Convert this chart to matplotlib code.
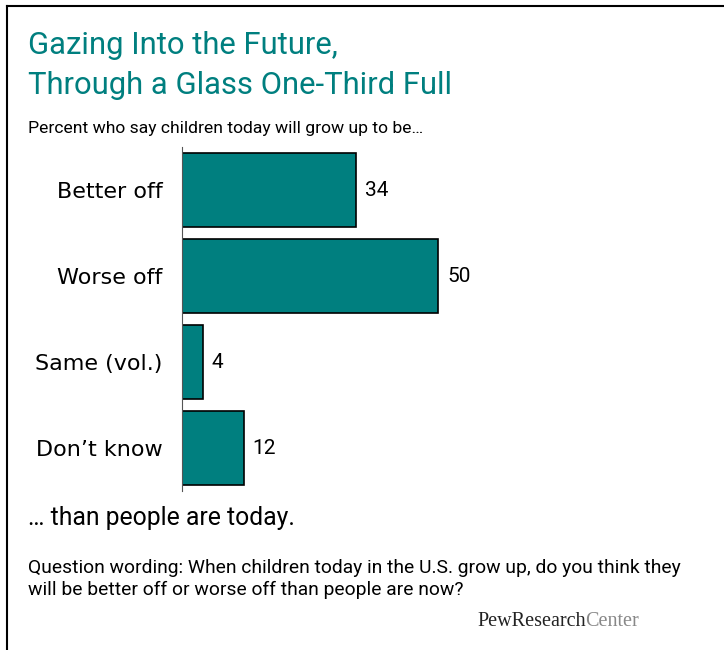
import numpy as np
import matplotlib.pyplot as plt

categories = ['Better off', 'Worse off', 'Same (vol.)', 'Don\u2019t know']
values = [34, 50, 4, 12]

teal = '#007f7f'

fig = plt.figure(figsize=(7.24, 6.5), dpi=100)
ax = fig.add_axes([182 / 724, 1 - 491 / 650, 307.5 / 724, 344 / 650])

y = np.arange(len(categories))
ax.barh(y, values, height=0.85, color=teal, edgecolor='black', linewidth=1.2)
for yi, v in zip(y, values):
    ax.text(v + 1.7, yi, str(v), va='center', ha='left', fontsize=15, family='Roboto')

ax.set_xlim(0, 60)
ax.set_ylim(3.5, -0.5)
ax.set_yticks(y)
ax.set_yticklabels(categories, fontsize=16, family='DejaVu Sans')
ax.tick_params(axis='y', length=0, pad=14)
ax.set_xticks([])
for s in ['top', 'right', 'bottom']:
    ax.spines[s].set_visible(False)
ax.spines['left'].set_color('#555555')

# frame lines (top and left)
fig.add_artist(plt.Line2D([7 / 724, 1], [1 - 6 / 650] * 2, color='black', lw=1.5))
fig.add_artist(plt.Line2D([7 / 724] * 2, [0, 1 - 6 / 650], color='black', lw=1.5))

fig.text(28 / 724, 1 - 45 / 650, 'Gazing Into the Future,', color=teal,
         fontsize=22.3, family='Roboto', va='center')
fig.text(28 / 724, 1 - 86 / 650, 'Through a Glass One-Third Full', color=teal,
         fontsize=22.3, family='Roboto', va='center')
fig.text(28 / 724, 1 - 128 / 650, 'Percent who say children today will grow up to be\u2026',
         fontsize=12.6, family='Roboto', va='center')
fig.text(28 / 724, 1 - 518 / 650, '\u2026 than people are today.', fontsize=17.8,
         family='Roboto', va='center')
fig.text(28 / 724, 1 - 568 / 650,
         'Question wording: When children today in the U.S. grow up, do you think they',
         fontsize=13.9, family='Roboto', va='center')
fig.text(28 / 724, 1 - 590 / 650, 'will be better off or worse off than people are now?',
         fontsize=13.9, family='Roboto', va='center')
t = fig.text(477 / 724, 1 - 622 / 650, 'PewResearch', family='Liberation Serif',
             fontsize=14.5, va='center', color='#222222')
fig.canvas.draw()
bb = t.get_window_extent()
fig.text(bb.x1 / 724, 1 - 622 / 650, 'Center', family='Liberation Serif',
         fontsize=14.5, va='center', color='#888888')

plt.savefig('out.png', dpi=100)
